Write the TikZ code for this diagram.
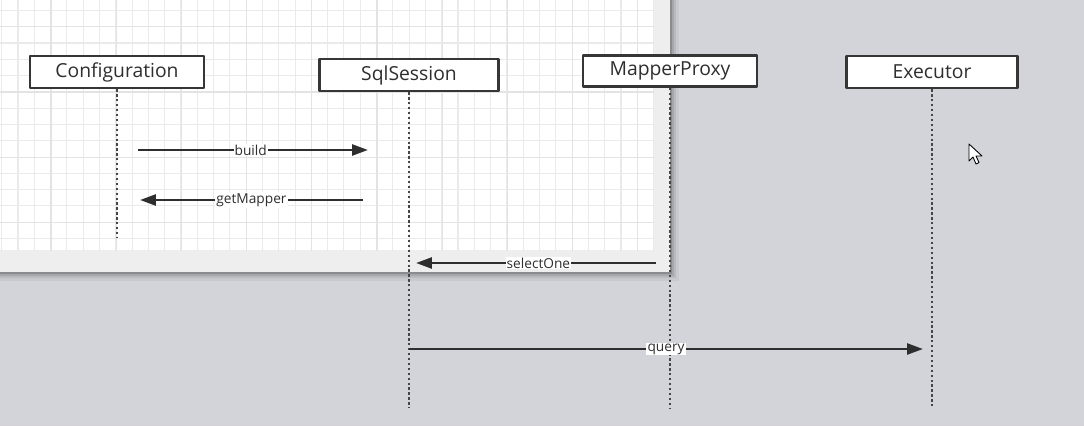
\documentclass[tikz,border=0pt]{standalone}
\usepackage{fontspec}
\setmainfont{Open Sans}
\usetikzlibrary{arrows.meta}
\definecolor{bggrey}{HTML}{D3D4D9}
\definecolor{panelband}{HTML}{EEEEEE}
\definecolor{gridminor}{HTML}{EAEAEA}
\definecolor{gridmajor}{HTML}{E3E3E3}
\definecolor{boxline}{HTML}{363636}
\definecolor{txt}{HTML}{2E2E2E}
\definecolor{dotc}{HTML}{454545}
\begin{document}
\begin{tikzpicture}[x=0.02cm,y=-0.02cm,line join=round,>={Triangle[length=9pt,width=6.2pt]}]
	\tikzset{actor/.style={draw=boxline,line width=1.5pt,fill=white,minimum height=0.64cm,inner sep=0pt,text=txt,font=\fontsize{11}{12}\selectfont},
		lifeline/.style={draw=dotc,line width=1.5pt,dash pattern=on 1.3pt off 1.5pt},
		msg/.style={draw=txt,line width=1.4pt,->},
		msglabel/.style={fill=white,inner sep=0.6pt,text=txt,font=\fontsize{7.8}{9}\selectfont}}
	\useasboundingbox (0,0) rectangle (1084,426);
	% background and drawing panel
	\fill[bggrey] (0,0) rectangle (1084,426);
	\foreach \d/\o in {2/0.16,4/0.1,6/0.07,9/0.05}{\fill[black,opacity=\o] (0,0) rectangle (670+\d,272+\d);}
	\fill[panelband] (0,0) rectangle (670,272);
	\begin{scope}
		\clip (0,0) rectangle (654,250);
		\fill[white] (0,0) rectangle (654,250);
		\draw[gridminor,line width=0.6pt,step=0.326cm,shift={(1.7,10.4)}] (-20,-20) grid (680,270);
		\draw[gridmajor,line width=0.7pt,step=1.304cm,shift={(51,92)}] (-80,-100) grid (680,270);
	\end{scope}
	% participants
	\node[actor,minimum width=3.48cm] (cfg) at (117,72) {Configuration};
	\node[actor,minimum width=3.58cm] (sess) at (409,75) {SqlSession};
	\node[actor,minimum width=3.48cm,minimum height=0.62cm] (proxy) at (670,71) {MapperProxy};
	\node[actor,minimum width=3.42cm] (exec) at (932,72) {Executor};
	% lifelines
	\coordinate (cfgEnd) at (117,237); \coordinate (sessEnd) at (409,408);
	\coordinate (proxyEnd) at (670,408); \coordinate (execEnd) at (932,408);
	\draw[lifeline] (cfg.south)--(cfgEnd); \draw[lifeline] (sess.south)--(sessEnd);
	\draw[lifeline] (proxy.south)--(proxyEnd); \draw[lifeline] (exec.south)--(execEnd);
	% messages
	\coordinate (buildA) at (138,150); \coordinate (buildB) at (368,150);
	\coordinate (mapA) at (363,200); \coordinate (mapB) at (140,200);
	\coordinate (selA) at (656,263); \coordinate (selB) at (416,263);
	\coordinate (qA) at (409,349); \coordinate (qB) at (923,349);
	\draw[msg] (buildA)--(buildB) node[msglabel,pos=0.49] (buildL) {build};
	\draw[msg] (mapA)--(mapB) node[msglabel,pos=0.5] (mapL) {getMapper};
	\draw[msg] (selA)--(selB) node[msglabel,pos=0.49] (selL) {selectOne};
	\draw[msg] (qA)--(qB) node[msglabel,pos=0.5] (qL) {query};
	% mouse pointer
	\draw[black,fill=white,line width=0.5pt] (969,144)--++(0,17)--++(4,-4)--++(3,7)--++(3,-1.5)--++(-3,-6.5)--++(6,0)--cycle;
\end{tikzpicture}
\end{document}
